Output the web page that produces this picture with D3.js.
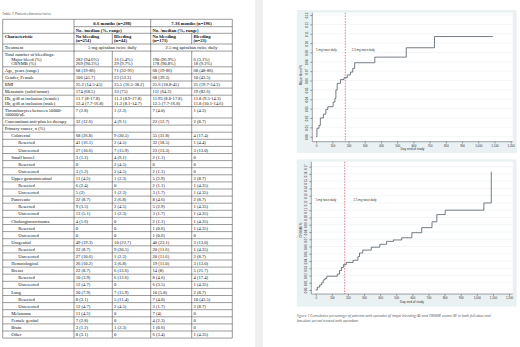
<!DOCTYPE html>
<html>
<head>
<meta charset="utf-8">
<script src="https://cdnjs.cloudflare.com/ajax/libs/d3/7.8.5/d3.min.js"></script>
<style>
  html, body { margin: 0; padding: 0; background: #fff; }
  svg { display: block; }
</style>
</head>
<body>
<div id="chart"></div>
<script>
/* ---------------- Table 1 data ---------------- */
const periodHeads = ['0-6 months (n=298)', '7-36 months (n=196)'];
const subHead = 'No. /median (%, range)';
const colHeads = ['No bleeding\n(n=254)', 'Bleeding\n(n=44)', 'No bleeding\n(n=173)', 'Bleeding\n(n=23)'];

const rowLabels = [
  'Treatment', 'Total number of bleedings:\nMajor bleed (%)\nCRNMB (%)', 'Age, years (range)',
  'Gender, Female', 'BMI', 'Metastatic (solid tumor)',
  'Hb, g/dl at inclusion (female)\nHb, g/dl at inclusion (male)', 'Thrombocytes between 50000-\n100000/uL',
  'Concomitant anti-platelet therapy', 'Primary cancer, n (%)',
  'Colorectal', 'Resected', 'Unresected', 'Small bowel', 'Resected', 'Unresected',
  'Upper gastrointestinal', 'Resected', 'Unresected', 'Pancreatic', 'Resected', 'Unresected',
  'Cholangiocarcinoma', 'Resected', 'Unresected', 'Urogenital', 'Resected', 'Unresected',
  'Hematological', 'Breast', 'Resected', 'Unresected', 'Lung', 'Resected', 'Unresected',
  'Melanoma', 'Female genital', 'Brain', 'Other'
];
const rowLevel = [0,0,0,0,0,0,0,0,0,0, 1,2,2,1,2,2,1,2,2,1,2,2,1,2,2,1,2,2,1,1,2,2,1,2,2,1,1,1,1];

const noBleedEarly = [
  '5 mg apixaban twice daily', '\n282 (94.6%)\n269 (90.3%)', '68 (19-86)', '106 (41.7)', '25.2 (14.5-45)',
  '174 (68.5)', '11.7 (8-17.8)\n12.4 (7.7-16.8)', '7 (2.8)', '32 (12.6)', '',
  '68 (26.8)', '41 (16.1)', '27 (10.6)', '3 (1.2)', '0', '3 (1.2)', '11 (4.3)', '6 (2.4)', '5 (2)',
  '22 (8.7)', '9 (3.5)', '13 (5.1)', '4 (1.6)', '0', '0', '49 (19.3)', '22 (8.7)', '27 (10.6)',
  '26 (10.2)', '22 (8.7)', '10 (3.9)', '12 (4.7)', '20 (7.9)', '8 (3.1)', '12 (4.7)',
  '11 (4.3)', '7 (2.8)', '3 (1.2)', '8 (3.1)'
];
const bleedEarly = [
  null, '\n16 (5.4%)\n29 (9.7%)', '71 (32-91)', '23 (52.3)', '25.5 (16.5-38.2)',
  '33 (75)', '11.2 (8.9-17.8)\n11.2 (8.1-14.7)', '1 (2.3)', '4 (9.1)', '',
  '9 (20.5)', '2 (4.5)', '7 (15.9)', '4 (9.1)', '2 (4.5)', '2 (4.5)', '1 (2.3)', '0', '1 (2.3)',
  '3 (6.8)', '2 (4.5)', '1 (2.3)', '0', '0', '0', '10 (22.7)', '9 (20.5)', '1 (2.3)',
  '3 (6.8)', '6 (13.6)', '6 (13.6)', '0', '7 (15.9)', '5 (11.4)', '2 (4.5)',
  '0', '0', '1 (2.3)', '0'
];
const noBleedLate = [
  '2.5 mg apixaban twice daily', '\n190 (96.9%)\n178 (90.8%)', '68 (19-86)', '68 (39.3)', '25.6 (18.8-45)',
  '111 (64.2)', '11.93 (8.8-17.8)\n12.5 (7.7-16.8)', '7 (4.0)', '22 (12.7)', '',
  '55 (31.8)', '32 (18.5)', '23 (13.3)', '2 (1.1)', '0', '2 (1.1)', '5 (2.9)', '2 (1.1)', '3 (1.7)',
  '8 (4.6)', '5 (2.9)', '3 (1.7)', '2 (1.1)', '1 (0.6)', '1 (0.6)', '40 (23.1)', '20 (11.6)', '20 (11.6)',
  '19 (11.0)', '14 (8)', '8 (4.6)', '6 (3.5)', '10 (5.8)', '7 (4.0)', '3 (1.7)',
  '7 (4)', '4 (2.3)', '1 (0.6)', '6 (3.4)'
];
const bleedLate = [
  null, '\n6 (3.1%)\n18 (9.2%)', '68 (48-86)', '10 (43.5)', '25 (19.7-34.3)',
  '19 (82.6)', '11.8 (9.5-14.3)\n11.8 (10.1-14.6)', '1 (4.3)', '2 (8.7)', '',
  '4 (17.4)', '1 (4.4)', '3 (13.0)', '0', '0', '0', '2 (8.7)', '1 (4.35)', '1 (4.35)',
  '2 (8.7)', '1 (4.35)', '1 (4.35)', '1 (4.35)', '1 (4.35)', '0', '3 (13.0)', '1 (4.35)', '2 (8.7)',
  '3 (13.0)', '5 (21.7)', '4 (17.4)', '1 (4.35)', '2 (8.7)', '10 (43.5)', '2 (8.7)',
  '0', '0', '0', '1 (4.35)'
];

/* ---------------- Figure 1 data ---------------- */
const xTicks = [0, 100, 200, 300, 400, 500, 600, 700, 800, 900, 1000, 1100, 1200];
const doseSwitchDay = 180;

// (A) major bleeding, cumulative proportion
const majorDays = [0, 5, 18, 26, 45, 60, 72, 105, 116, 122, 130, 150, 172, 192, 212, 226, 238, 362, 556, 730, 1090];
const majorCum  = [0, 0.009, 0.012, 0.020, 0.024, 0.029, 0.032, 0.037, 0.041, 0.050, 0.057, 0.061, 0.063, 0.066, 0.069, 0.073, 0.079, 0.085, 0.095, 0.107, 0.107];

// (B) CRNMB, cumulative proportion
const crnmbDays = [0, 10, 25, 37, 47, 58, 69, 134, 148, 160, 172, 190, 232, 262, 272, 292, 345, 398, 440, 482, 534, 597, 658, 722, 752, 804, 1044, 1090];
const crnmbCum  = [0, 0.004, 0.007, 0.010, 0.014, 0.016, 0.019, 0.022, 0.027, 0.031, 0.035, 0.038, 0.041, 0.046, 0.051, 0.055, 0.059, 0.063, 0.067, 0.069, 0.072, 0.079, 0.086, 0.094, 0.104, 0.110, 0.120, 0.163];

/* ---------------- canvas ---------------- */
const W = 520, H = 347;
const svg = d3.select('#chart').append('svg')
  .attr('width', W).attr('height', H)
  .attr('viewBox', `0 0 ${W} ${H}`);
svg.append('rect').attr('width', W).attr('height', H).attr('fill', '#fff');

// divider strip between the two page columns
svg.append('rect').attr('x', 255).attr('y', 0).attr('width', 8).attr('height', H).attr('fill', '#efefef');

/* ================================================================== */
/*  Table                                                              */
/* ================================================================== */

function drawTable() {
  const serif = '"Liberation Serif", "Times New Roman", serif';
  const fs = 4.6;
  const colX = [2.7, 74, 112.3, 150.7, 191.7, 232.3];
  const top = 19.3, hA = 7.4, hB = 6.6, hC = 10.7;
  const rowH = 7.1, lineExtra = 4.3;
  const line = '#222';

  svg.append('text')
    .attr('x', 2).attr('y', 14.5)
    .attr('font-family', '"Open Sans", sans-serif').attr('font-size', 3.7)
    .attr('font-style', 'italic').attr('fill', '#555')
    .text('Table 1 Patient characteristics');

  const g = svg.append('g');
  const cols = [noBleedEarly, bleedEarly, noBleedLate, bleedLate];

  // row geometry
  const yStart = top + hA + hB + hC;
  const rows = [];
  let y = yStart;
  rowLabels.forEach((lab, i) => {
    const n = Math.max(lab.split('\n').length, ...cols.map(c => (c[i] || '').split('\n').length));
    const h = rowH + (n - 1) * lineExtra;
    rows.push({ y, h, i });
    y += h;
  });
  const bottom = y;

  const hline = (x1, x2, yy) => g.append('line').attr('x1', x1).attr('x2', x2).attr('y1', yy).attr('y2', yy)
    .attr('stroke', line).attr('stroke-width', 0.45);
  const vline = (xx, y1, y2) => g.append('line').attr('x1', xx).attr('x2', xx).attr('y1', y1).attr('y2', y2)
    .attr('stroke', line).attr('stroke-width', 0.45);

  // header lines
  hline(colX[0], colX[5], top);
  hline(colX[1], colX[5], top + hA);
  hline(colX[0], colX[5], top + hA + hB);
  hline(colX[0], colX[5], yStart);
  rows.forEach(r => hline(colX[0], colX[5], r.y + r.h));

  [0, 1, 3, 5].forEach(k => vline(colX[k], top, bottom));
  [2, 4].forEach(k => {
    vline(colX[k], top + hA + hB, yStart);
    vline(colX[k], yStart + rows[0].h, bottom);
  });

  const txt = (x, yy, s, opts = {}) => g.append('text')
    .attr('x', x).attr('y', yy)
    .attr('font-family', serif).attr('font-size', fs)
    .attr('font-weight', opts.bold ? 700 : 400)
    .attr('text-anchor', opts.anchor || 'start')
    .attr('fill', '#111')
    .text(s);

  // header text
  periodHeads.forEach((s, k) => {
    const cx = (colX[1 + 2 * k] + colX[3 + 2 * k]) / 2;
    txt(cx, top + hA / 2 + fs * 0.35, s, { bold: true, anchor: 'middle' });
    txt(colX[1 + 2 * k] + 1.8, top + hA + hB / 2 + fs * 0.35, subHead, { bold: true });
  });
  txt(colX[0] + 2, top + hA + hB + 4.6, 'Characteristic', { bold: true });
  colHeads.forEach((s, k) => {
    s.split('\n').forEach((ln, j) => txt(colX[k + 1] + 1.8, top + hA + hB + 4.6 + j * lineExtra, ln, { bold: true }));
  });

  // body
  const indentX = [colX[0] + 2, colX[0] + 8.5, colX[0] + 15.5];
  rows.forEach(r => {
    const i = r.i;
    const base = r.y + rowH / 2 + fs * 0.35;
    rowLabels[i].split('\n').forEach((ln, j) => {
      const lx = j > 0 && rowLabels[i].includes(':') ? indentX[1] : indentX[rowLevel[i]];
      txt(lx, base + j * lineExtra, ln);
    });
    cols.forEach((c, k) => {
      const v = c[i];
      if (v == null) return;
      if (i === 0) {
        // spanning treatment cell
        const cx = (colX[k + 1] + colX[k + 3]) / 2;
        txt(cx, base, v, { anchor: 'middle' });
        return;
      }
      v.split('\n').forEach((ln, j) => { if (ln) txt(colX[k + 1] + 1.8, base + j * lineExtra, ln); });
    });
  });
}

/* ================================================================== */
/*  Step charts                                                        */
/* ================================================================== */

function drawStepPanel(o) {
  const sans = '"Liberation Sans", Arial, sans-serif';
  const g = svg.append('g');

  // graph region + plot region
  g.append('rect').attr('x', o.panel[0]).attr('y', o.panel[1])
    .attr('width', o.panel[2] - o.panel[0]).attr('height', o.panel[3] - o.panel[1])
    .attr('fill', '#eaf1f3');
  g.append('rect').attr('x', o.plot[0]).attr('y', o.plot[1])
    .attr('width', o.plot[2] - o.plot[0]).attr('height', o.plot[3] - o.plot[1])
    .attr('fill', '#fff');

  const x = d3.scaleLinear().domain([0, 1200]).range(o.xRange);
  const y = d3.scaleLinear().domain([0, o.yMax]).range(o.yRange);
  const yTicks = d3.range(0, o.yMax + 0.0001, 0.01);

  // gridlines
  g.selectAll('.grid').data(yTicks).enter().append('line')
    .attr('x1', o.plot[0]).attr('x2', o.plot[2])
    .attr('y1', d => y(d)).attr('y2', d => y(d))
    .attr('stroke', '#e4ecef').attr('stroke-width', 0.5);

  // y axis
  const yAxis = g.append('g').attr('transform', `translate(${o.plot[0]},0)`)
    .call(d3.axisLeft(y).tickValues(yTicks).tickFormat(d3.format('.2f')).tickSize(2).tickPadding(1.2));
  yAxis.select('.domain').attr('d', `M0,${o.plot[1]}V${o.plot[3]}`).attr('stroke', '#333').attr('stroke-width', 0.45);
  yAxis.selectAll('.tick line').attr('stroke', '#333').attr('stroke-width', 0.45);
  yAxis.selectAll('.tick text')
    .attr('font-family', sans).attr('font-size', 2.9).attr('fill', '#333')
    .attr('x', null).attr('dy', null)
    .attr('text-anchor', 'middle')
    .attr('transform', 'translate(-4.2,0) rotate(-90)');

  // x axis
  const xAxis = g.append('g').attr('transform', `translate(0,${o.plot[3]})`)
    .call(d3.axisBottom(x).tickValues(xTicks).tickSize(1.8).tickPadding(1));
  xAxis.select('.domain').attr('d', `M${o.plot[0]},0H${o.plot[2]}`).attr('stroke', '#333').attr('stroke-width', 0.45);
  xAxis.selectAll('.tick line').attr('stroke', '#333').attr('stroke-width', 0.45);
  xAxis.selectAll('.tick text').attr('font-family', sans).attr('font-size', 2.9).attr('fill', '#333');

  g.append('text')
    .attr('x', (o.plot[0] + o.plot[2]) / 2).attr('y', o.plot[3] + 8.6)
    .attr('text-anchor', 'middle')
    .attr('font-family', sans).attr('font-size', 3.2).attr('fill', '#333')
    .text('Day end of study');

  g.append('text')
    .attr('transform', `translate(${o.panel[0] + 4.8},${o.yTitleY}) rotate(-90)`)
    .attr('text-anchor', 'middle')
    .attr('font-family', sans).attr('font-size', 3.2).attr('fill', '#333')
    .text(o.yTitle);

  // dose switch marker
  g.append('line')
    .attr('x1', x(doseSwitchDay)).attr('x2', x(doseSwitchDay))
    .attr('y1', o.plot[1]).attr('y2', o.plot[3])
    .attr('stroke', '#c8344f').attr('stroke-width', 0.6)
    .attr('stroke-dasharray', '1.6,1.2');

  g.append('text')
    .attr('x', x(0)).attr('y', y(o.labelAt) + 1)
    .attr('font-family', sans).attr('font-size', 2.9).attr('fill', '#333')
    .text('5 mg twice daily');
  g.append('text')
    .attr('x', x(o.label2Day)).attr('y', y(o.labelAt) + 1)
    .attr('font-family', sans).attr('font-size', 2.9).attr('fill', '#333')
    .text('2.5 mg twice daily');

  // cumulative step line
  const pts = o.days.map((d, i) => [d, o.values[i]]);
  g.append('path').datum(pts)
    .attr('d', d3.line().x(d => x(d[0])).y(d => y(d[1])).curve(d3.curveStepAfter))
    .attr('fill', 'none')
    .attr('stroke', '#3d4650')
    .attr('stroke-width', 0.7);
}

drawTable();

drawStepPanel({
  panel: [296.7, 10, 516.7, 153],
  plot: [312.3, 12.7, 512.7, 141.7],
  xRange: [316.1, 510.7],
  yRange: [136.7, 15],
  yMax: 0.13,
  yTitle: 'Major bleed %',
  yTitleY: 75,
  labelAt: 0.093,
  label2Day: 220,
  days: majorDays,
  values: majorCum,
});

drawStepPanel({
  panel: [296.7, 159.3, 516.7, 306.7],
  plot: [311.3, 161.7, 512.7, 294],
  xRange: [315.7, 509],
  yRange: [290, 166.7],
  yMax: 0.17,
  yTitle: 'CRNMB %',
  yTitleY: 230,
  labelAt: 0.124,
  label2Day: 235,
  days: crnmbDays,
  values: crnmbCum,
});

// figure caption
const caption = [
  'Figure 1 Cumulative percentage of patients with episodes of major bleeding (A) and CRNMB events (B) in both full-dose and',
  'low-dose period treated with apixaban.'
];
svg.selectAll('.caption').data(caption).enter().append('text')
  .attr('x', 296.7).attr('y', (d, i) => 316.5 + i * 5.2)
  .attr('font-family', '"Open Sans", sans-serif').attr('font-size', 3.6)
  .attr('font-style', 'italic').attr('fill', '#555')
  .text(d => d);
</script>
</body>
</html>
